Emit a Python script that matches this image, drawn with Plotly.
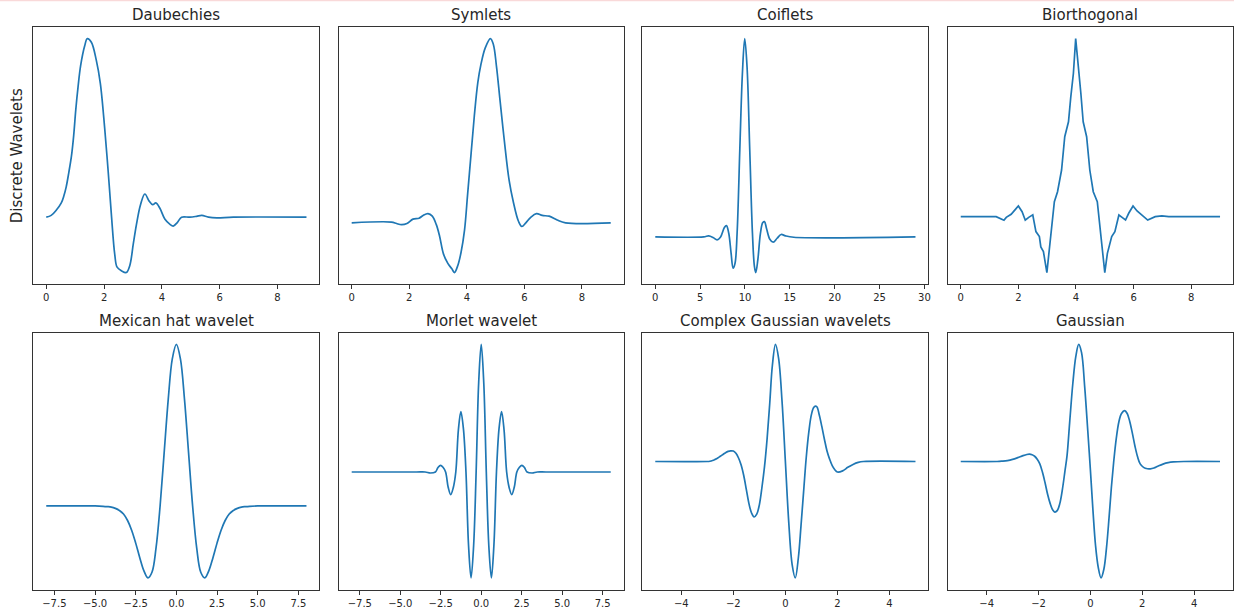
import plotly.graph_objects as go

# ---------------- data (y in arbitrary units, peak = 1) ----------------
DB_X = [0, 0.17, 0.35, 0.52, 0.61, 0.69, 0.78, 0.87, 0.95, 1.02, 1.10, 1.19, 1.33, 1.42, 1.56, 1.73, 1.87, 2.02, 2.14,
        2.25, 2.37, 2.45, 2.60, 2.77, 2.89, 3.01, 3.12, 3.26, 3.41, 3.56, 3.68, 3.79, 3.93, 4.10,
        4.28, 4.39, 4.53, 4.68, 4.97, 5.20, 5.38, 5.61, 5.90, 6.47, 9.0]
DB_Y = [0, 0.01, 0.04, 0.08, 0.12, 0.17, 0.25, 0.34, 0.46, 0.60, 0.73, 0.85, 0.96, 1.0, 0.98, 0.88, 0.75, 0.50, 0.26,
        0.02, -0.21, -0.28, -0.30, -0.31, -0.27, -0.15, -0.04, 0.07, 0.13, 0.09, 0.07, 0.08, 0.05, -0.01,
        -0.04, -0.05, -0.03, 0.0, 0.0, 0.005, 0.01, 0.0, -0.004, 0.0, 0.0]

SYM_X = [0, 1.38, 1.56, 1.73, 1.92, 2.13, 2.34, 2.48, 2.65, 2.80, 2.94, 3.05, 3.19, 3.34, 3.48,
         3.57, 3.69, 3.80, 3.92, 4.03, 4.15, 4.26, 4.38, 4.49, 4.64, 4.82, 4.92, 5.03, 5.15, 5.30,
         5.47, 5.62, 5.79, 5.91, 6.05, 6.22, 6.42, 6.62, 6.86, 7.14, 7.43, 9.0]
SYM_Y = [0, 0.004, -0.004, -0.01, -0.004, 0.02, 0.025, 0.04, 0.05, 0.036, -0.01, -0.07, -0.17, -0.22, -0.25,
         -0.27, -0.23, -0.16, -0.04, 0.16, 0.38, 0.58, 0.76, 0.86, 0.95, 1.0, 0.97, 0.85, 0.67, 0.45,
         0.23, 0.11, 0.01, -0.02, 0.0, 0.03, 0.05, 0.04, 0.036, 0.015, 0.0, 0.0]

COIF_X = [0, 5.40, 5.95, 6.44, 6.89, 7.26, 7.70, 7.93, 8.19, 8.45, 8.67, 8.89, 9.12, 9.42, 9.71,
          9.97, 10.23, 10.53, 10.83, 11.05, 11.20, 11.43, 11.72, 11.98, 12.17, 12.39, 12.77, 13.14,
          13.58, 14.03, 14.51, 15.44, 29.0]
COIF_Y = [0, 0, 0.005, -0.003, -0.015, -0.002, 0.047, 0.057, 0.018, -0.082, -0.158, -0.133, 0.018, 0.438, 0.824,
          1.0, 0.857, 0.438, 0.018, -0.149, -0.180, -0.116, 0.018, 0.072, 0.077, 0.044, -0.012, -0.027,
          -0.007, 0.012, 0.005, -0.002, 0.0]

BIOR_X = [0, 0.77, 1.0, 1.23, 1.5, 1.58, 1.75, 2.0, 2.13, 2.24, 2.36, 2.50, 2.61, 2.73, 2.78, 2.87,
          2.99, 3.13, 3.25, 3.36, 3.50, 3.61, 3.74, 3.82, 3.91, 3.99, 4.09, 4.17, 4.25, 4.37, 4.48,
          4.60, 4.74, 4.86, 5.0, 5.09, 5.14, 5.24, 5.35, 5.49, 5.60, 5.72, 5.83, 5.98, 6.12, 6.29,
          6.49, 6.75, 6.98, 7.22, 9.0]
BIOR_Y = [0, 0, 0.004, 0, -0.02, -0.004, 0.013, 0.06, 0.028, -0.02, -0.004, 0.01, -0.084, -0.112, -0.17, -0.196,
          -0.314, -0.112, 0.084, 0.14, 0.262, 0.449, 0.533, 0.673, 0.804, 1.0, 0.841, 0.692, 0.533, 0.449, 0.262,
          0.14, 0.084, -0.112, -0.314, -0.206, -0.168, -0.112, -0.084, 0.009, -0.004, -0.019, 0.019, 0.06, 0.032, 0.009,
          -0.019, 0.0, 0.004, 0.0, 0.0]

MEX_X = [-8, -5, -4.5, -4.25, -4, -3.75, -3.5, -3.25, -3, -2.75, -2.5, -2.25, -2, -1.75, -1.5, -1.25,
         -1, -0.75, -0.5, -0.25, 0, 0.25, 0.5, 0.75, 1, 1.25, 1.5, 1.75, 2, 2.25, 2.5, 2.75, 3,
         3.25, 3.5, 3.75, 4, 4.25, 4.5, 5, 8]
MEX_Y = [0, 0, -0.002, -0.004, -0.007, -0.015, -0.028, -0.05, -0.09, -0.15, -0.23, -0.32, -0.40, -0.445, -0.41, -0.26,
         0.0, 0.33, 0.66, 0.91, 1.0, 0.91, 0.66, 0.33, 0.0, -0.26, -0.41, -0.445, -0.40, -0.32, -0.23, -0.15, -0.09,
         -0.05, -0.028, -0.015, -0.007, -0.004, -0.002, 0, 0]

MOR_X = [-8, -4, -3.46, -3.14, -2.83, -2.67, -2.51, -2.36, -2.2, -2.04, -1.885, -1.73, -1.571, -1.41,
         -1.257, -1.10, -0.942, -0.785, -0.628, -0.47, -0.314, -0.157, 0, 0.157, 0.314, 0.47, 0.628,
         0.785, 0.942, 1.10, 1.257, 1.41, 1.571, 1.73, 1.885, 2.04, 2.2, 2.36, 2.51, 2.67, 2.83, 3.14,
         3.46, 4, 8]
MOR_Y = [0, 0, 0, -0.008, 0, 0.035, 0.052, 0.037, 0, -0.12, -0.177, -0.125, 0, 0.33,
         0.474, 0.34, 0, -0.57, -0.83, -0.58, 0, 0.70, 1.0, 0.70, 0, -0.58, -0.83,
         -0.57, 0, 0.34, 0.474, 0.33, 0, -0.125, -0.177, -0.12, 0, 0.037, 0.052, 0.035, 0, -0.008,
         0, 0, 0]

CGAU_X = [-5, -3.0, -2.9, -2.8, -2.7, -2.6, -2.5, -2.4, -2.3, -2.2, -2.1, -2.0, -1.9, -1.8, -1.7,
          -1.6, -1.5, -1.4, -1.3, -1.2, -1.1, -1.0, -0.9, -0.8, -0.7, -0.6, -0.5, -0.38, -0.26, -0.13,
          0.0, 0.13, 0.26, 0.38, 0.5, 0.6, 0.7, 0.8, 0.9, 1.0, 1.1, 1.2, 1.3, 1.4, 1.5, 1.6,
          1.7, 1.8, 1.9, 2.0, 2.2, 2.4, 2.6, 2.8, 3.0, 5]
CGAU_Y = [0, 0.0, 0.002, 0.008, 0.018, 0.03, 0.045, 0.06, 0.075, 0.086, 0.091, 0.089, 0.07, 0.03, -0.03,
          -0.12, -0.24, -0.36, -0.44, -0.474, -0.45, -0.37, -0.22, -0.04, 0.20, 0.50, 0.82, 1.0, 0.88, 0.52,
          0.0, -0.52, -0.88, -0.994, -0.82, -0.55, -0.26, 0.03, 0.25, 0.40, 0.465, 0.47, 0.40, 0.30, 0.19, 0.09,
          0.02, -0.035, -0.07, -0.09, -0.08, -0.05, -0.025, -0.008, 0.0, 0]

GAU_X = [-5, -3.6, -3.4, -3.2, -3.0, -2.8, -2.6, -2.45, -2.35, -2.25, -2.15, -2.05, -1.95, -1.85, -1.75,
         -1.65, -1.55, -1.45, -1.37, -1.28, -1.18, -1.08, -0.98, -0.9, -0.8, -0.68, -0.56, -0.45,
         -0.34, -0.22, -0.1, 0.0, 0.1, 0.2, 0.3, 0.41, 0.52, 0.62, 0.72, 0.81, 0.9, 1.0, 1.1, 1.2,
         1.32, 1.42, 1.52, 1.62, 1.72, 1.82, 1.92, 2.05, 2.2, 2.31, 2.45, 2.6, 2.8, 3.0, 3.2, 3.6, 5]
GAU_Y = [0, 0, 0.003, 0.008, 0.018, 0.033, 0.05, 0.06, 0.0625, 0.058, 0.045, 0.02, -0.02, -0.09, -0.18,
         -0.28, -0.36, -0.415, -0.432, -0.42, -0.36, -0.24, -0.08, 0.05, 0.33, 0.66, 0.90, 1.0,
         0.93, 0.64, 0.26, -0.07, -0.42, -0.72, -0.90, -0.994, -0.92, -0.74, -0.48, -0.22, 0.0, 0.20, 0.34, 0.41,
         0.435, 0.41, 0.34, 0.24, 0.13, 0.04, -0.02, -0.05, -0.062, -0.0625, -0.055, -0.04, -0.022, -0.01, -0.004, 0, 0]

TITLES = ["Daubechies", "Symlets", "Coiflets", "Biorthogonal",
          "Mexican hat wavelet", "Morlet wavelet", "Complex Gaussian wavelets", "Gaussian"]
Y_LABEL = "Discrete Wavelets"

TICKS_0_8 = [0, 2, 4, 6, 8]
TICKS_COIF = [0, 5, 10, 15, 20, 25, 30]
TICKS_HAT = [-7.5, -5.0, -2.5, 0.0, 2.5, 5.0, 7.5]
LABELS_HAT = ["\u22127.5", "\u22125.0", "\u22122.5", "0.0", "2.5", "5.0", "7.5"]
TICKS_GAU = [-4, -2, 0, 2, 4]
LABELS_GAU = ["\u22124", "\u22122", "0", "2", "4"]

# ---------------- figure ----------------
panels = [
    (DB_X, DB_Y, TICKS_0_8, [str(t) for t in TICKS_0_8], "spline"),
    (SYM_X, SYM_Y, TICKS_0_8, [str(t) for t in TICKS_0_8], "spline"),
    (COIF_X, COIF_Y, TICKS_COIF, [str(t) for t in TICKS_COIF], "spline"),
    (BIOR_X, BIOR_Y, TICKS_0_8, [str(t) for t in TICKS_0_8], "linear"),
    (MEX_X, MEX_Y, TICKS_HAT, LABELS_HAT, "spline"),
    (MOR_X, MOR_Y, TICKS_HAT, LABELS_HAT, "spline"),
    (CGAU_X, CGAU_Y, TICKS_GAU, LABELS_GAU, "spline"),
    (GAU_X, GAU_Y, TICKS_GAU, LABELS_GAU, "spline"),
]

W, H = 1236, 609
X_PIX = [(33.3, 320.0), (339.3, 624.7), (643.3, 930.0), (949.3, 1235.0)]
Y_PIX = [(27.0, 284.7), (333.3, 590.5)]
TITLE_Y_PIX = [15.0, 321.7]

fig = go.Figure()
FONT = "DejaVu Sans, Liberation Sans, sans-serif"
LINE = "#1f77b4"
AX = "#333333"

def pad(vals):
    lo, hi = min(vals), max(vals)
    s = hi - lo
    return [lo - 0.05 * s, hi + 0.05 * s]

annotations = []
for i, (xs, ys, tv, tt, shape) in enumerate(panels):
    r, c = divmod(i, 4)
    n = i + 1
    xa = "x" if n == 1 else f"x{n}"
    ya = "y" if n == 1 else f"y{n}"
    line = dict(color=LINE, width=1.7, shape=shape)
    if shape == "spline":
        line["smoothing"] = 1.0
    fig.add_trace(go.Scatter(x=xs, y=ys, mode="lines", line=line, xaxis=xa, yaxis=ya,
                             showlegend=False, hoverinfo="skip"))
    x0, x1 = X_PIX[c]
    y0, y1 = Y_PIX[r]
    xkey = "xaxis" if n == 1 else f"xaxis{n}"
    ykey = "yaxis" if n == 1 else f"yaxis{n}"
    fig.layout[xkey] = dict(
        domain=[x0 / W, x1 / W], anchor=ya, range=pad(xs),
        tickmode="array", tickvals=tv, ticktext=tt,
        showline=True, mirror=True, linecolor=AX, linewidth=1,
        ticks="outside", ticklen=4, tickwidth=1, tickcolor=AX,
        tickfont=dict(family=FONT, size=10, color="#262626"),
        showgrid=False, zeroline=False, fixedrange=True,
    )
    fig.layout[ykey] = dict(
        domain=[(H - y1) / H, (H - y0) / H], anchor=xa, range=pad(ys),
        showline=True, mirror=True, linecolor=AX, linewidth=1,
        ticks="", showticklabels=False,
        showgrid=False, zeroline=False, fixedrange=True,
    )
    annotations.append(dict(
        text=TITLES[i], x=(x0 + x1) / 2 / W, y=(H - TITLE_Y_PIX[r]) / H,
        xref="paper", yref="paper", xanchor="center", yanchor="middle",
        showarrow=False, font=dict(family=FONT, size=15, color="#262626"),
    ))

annotations.append(dict(
    text=Y_LABEL, x=16.5 / W, y=(H - 156) / H, xref="paper", yref="paper",
    xanchor="center", yanchor="middle", textangle=-90, showarrow=False,
    font=dict(family=FONT, size=15, color="#262626"),
))

fig.update_layout(
    width=W, height=H, margin=dict(l=0, r=0, t=0, b=0),
    paper_bgcolor="white", plot_bgcolor="white",
    annotations=annotations,
    shapes=[dict(type="rect", xref="paper", yref="paper", x0=0, x1=1,
                 y0=(H - 1.2) / H, y1=1, fillcolor="#f9d9d9", line=dict(width=0), layer="below")],
)

fig.write_html("out.html", config={"displayModeBar": False})
